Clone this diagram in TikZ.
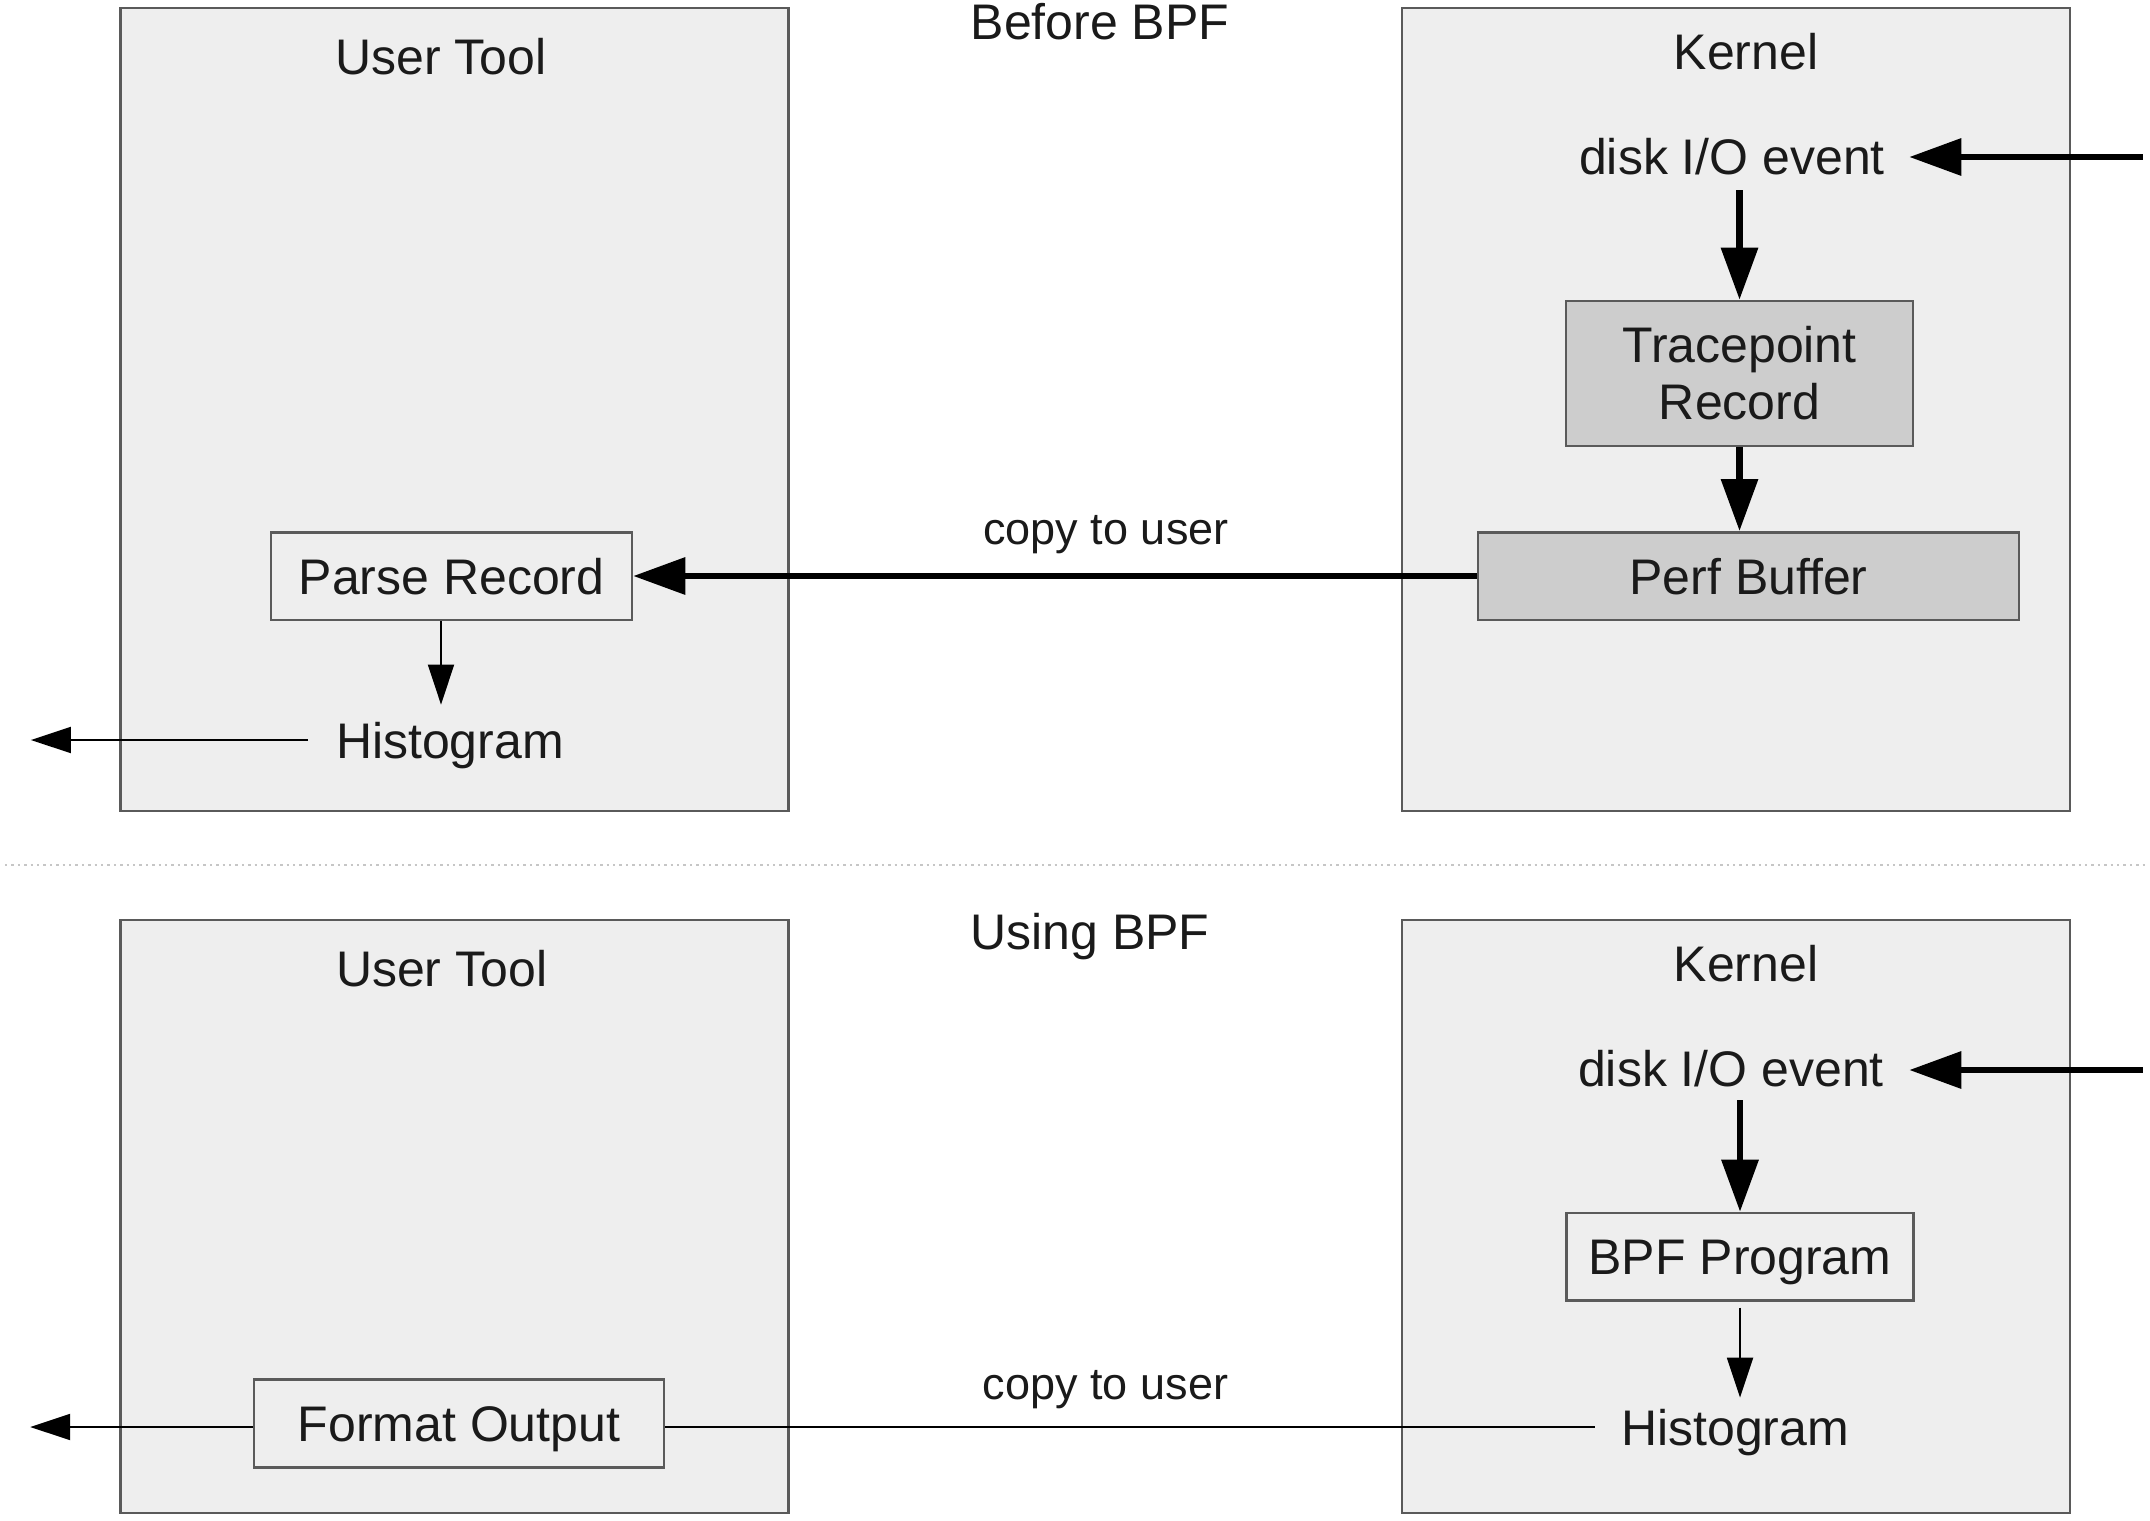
\documentclass[tikz,border=0pt]{standalone}
\usepackage{fontspec}
\setmainfont{Liberation Sans}
\usetikzlibrary{arrows.meta}
\definecolor{boxfill}{HTML}{EEEEEE}
\definecolor{darkfill}{HTML}{CDCDCD}
\definecolor{edge}{HTML}{5A5A5A}
\definecolor{txt}{HTML}{1A1A1A}
\begin{document}
\begin{tikzpicture}[x=0.5pt,y=-0.5pt,
  panel/.style={draw=edge,fill=boxfill,line width=1.25pt},
  lbl/.style={text=txt,font=\fontsize{25}{28.5}\selectfont,inner sep=0pt,text height=18pt,text depth=0pt,anchor=center},
  smalllbl/.style={text=txt,font=\fontsize{22.5}{27}\selectfont,inner sep=0pt,text height=16.2pt,text depth=0pt,anchor=center},
  procbox/.style={draw=edge,line width=1.25pt,fill=boxfill,text=txt,font=\fontsize{25}{28.5}\selectfont,inner sep=0pt,text height=18pt,text depth=0pt},
  darkbox/.style={procbox,fill=darkfill},
  thickarrow/.style={line width=3.2pt,-{Triangle[length=26pt,width=18pt]}},
  thinarrow/.style={line width=1pt,-{Triangle[length=20pt,width=13pt]}},
  thinline/.style={line width=1pt}]
\useasboundingbox (0,0) rectangle (2150,1520);
\fill[white] (0,0) rectangle (2150,1520);

% ---------- Before BPF ----------
\draw[panel] (120.7,8) rectangle (788.5,811);
\draw[panel] (1402,8) rectangle (2070,811);
\node[lbl] (before) at (1100,22) {Before BPF};
\node[lbl] (ut1) at (441,57) {User Tool};
\node[lbl] (k1) at (1746,52) {Kernel};
\node[lbl] (disk1) at (1732,156) {disk I/O event};
\node[darkbox,minimum width=173.5pt,minimum height=72.5pt] (tp) at (1739.5,373.4) {};
\node[text=txt,font=\fontsize{25}{28.5}\selectfont,align=center,inner sep=0pt] (tptext) at (tp.center) {Tracepoint\\Record};
\node[darkbox,minimum width=270.5pt,minimum height=43.75pt] (perf) at (1748.5,576) {Perf Buffer};
\node[procbox,minimum width=180.5pt,minimum height=43.75pt] (parse) at (451.5,576) {Parse Record};
\node[lbl] (hist1) at (450,740) {Histogram};
\node[smalllbl] (copy1) at (1106,528) {copy to user};
\coordinate (src1) at (2142.5,157);
\coordinate (out1) at (30.9,740);

\draw[thickarrow,shorten >=12pt] (src1) -- (src1 -| disk1.east);
\draw[thickarrow,shorten <=8pt] (tp.north |- disk1.south) -- (tp.north);
\draw[thickarrow] (tp.south) -- (tp.south |- perf.north);
\draw[thickarrow] (perf.west) -- (parse.east);
\draw[thinarrow,shorten >=8.5pt] (parse.south -| ut1) -- (hist1.north -| ut1);
\draw[thinarrow,shorten <=13.75pt] (hist1.west) -- (out1);

% ---------- separator ----------
\coordinate (sepL) at (5,865);
\coordinate (sepR) at (2145,865);
\draw[gray!45,line width=1.2pt,dotted] (sepL) -- (sepR);

% ---------- Using BPF ----------
\draw[panel] (120.7,920) rectangle (788.5,1513);
\draw[panel] (1402,920) rectangle (2070,1513);
\node[lbl] (using) at (1090,931) {Using BPF};
\node[lbl] (ut2) at (441.6,968) {User Tool};
\node[lbl] (k2) at (1746,963) {Kernel};
\node[lbl] (disk2) at (1731,1068) {disk I/O event};
\node[procbox,minimum width=173.5pt,minimum height=43.75pt] (bpf) at (1740,1256.7) {BPF Program};
\node[lbl] (hist2) at (1735,1427) {Histogram};
\node[procbox,minimum width=205pt,minimum height=44pt] (format) at (459,1423.4) {Format Output};
\node[smalllbl] (copy2) at (1105.5,1383) {copy to user};
\coordinate (src2) at (2142.6,1070);
\coordinate (out2) at (30.2,1427);

\draw[thickarrow,shorten >=12.5pt] (src2) -- (src2 -| disk2.east);
\draw[thickarrow,shorten <=7pt] (bpf.north |- disk2.south) -- (bpf.north);
\draw[thinarrow,shorten <=3pt,shorten >=5.5pt] (bpf.south) -- (bpf.south |- hist2.north);
\draw[thinline,shorten <=13pt] (hist2.west) -- (hist2.west -| format.east);
\draw[thinarrow] (format.west |- out2) -- (out2);
\end{tikzpicture}
\end{document}
